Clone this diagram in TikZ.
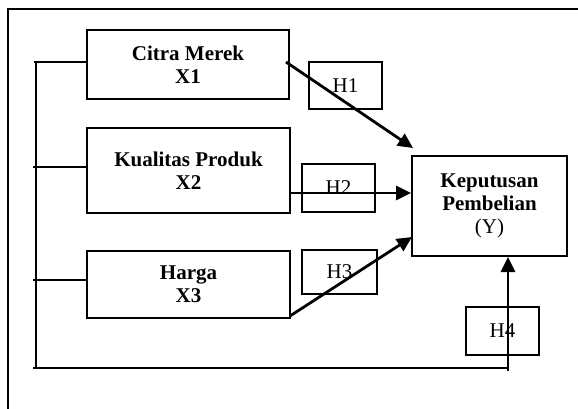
\documentclass[tikz,border=0pt]{standalone}
\usepackage{fontspec}
\setmainfont{Liberation Serif}
\usetikzlibrary{arrows.meta,calc}
\begin{document}
\begin{tikzpicture}[x=1pt,y=-1pt,
  varbox/.style={draw,line width=2pt,inner sep=0pt,align=center,
    font=\fontsize{21}{23}\selectfont\bfseries},
  hbox/.style={draw,line width=2pt,inner sep=0pt,
    font=\fontsize{21}{23}\selectfont},
  link/.style={line width=2pt},
  arr/.style={line width=2.8pt,-{Triangle[length=15pt,width=14pt]}}]
\useasboundingbox (0,0) rectangle (578,408);
\clip (0,0) rectangle (578,408);
% outer frame (partially visible)
\draw[line width=2pt] (8,420) -- (8,9) -- (600,9);
% variable boxes
\node[varbox,minimum width=202pt,minimum height=69pt] (c1) at (188,64.5) {Citra Merek\\X1};
\node[varbox,minimum width=203pt,minimum height=85pt] (k2) at (188.5,170.5) {Kualitas Produk\\X2};
\node[varbox,minimum width=203pt,minimum height=67pt] (h3) at (188.5,284.5) {Harga\\X3};
\node[varbox,minimum width=155pt,minimum height=100pt] (y) at (489.5,206)
  {Keputusan\\Pembelian\\\mdseries(Y)};
% hypothesis boxes
\node[hbox,minimum width=73pt,minimum height=47pt] (hA) at (345.5,85.5) {H1};
\node[hbox,minimum width=73pt,minimum height=48pt] (hB) at (338.5,188) {H2};
\node[hbox,minimum width=75pt,minimum height=44pt] (hC) at (339.5,272) {H3};
\node[hbox,minimum width=73pt,minimum height=48pt] (hD) at (502.5,331) {H4};
% bus on the left
\coordinate (bt) at (36,62);
\coordinate (bb) at (36,368);
\coordinate (br) at (508,368);
\coordinate (bs) at (508,371);
\draw[link] (bt) -- (bb);
\draw[link] ($(bb)+(-3,0)$) -- (br);
\draw[link] ($(bt)+(-2,0)$) -- (bt -| c1.west);
\draw[link] (33,167) -- (k2.west |- 0,167);
\draw[link] (33,280) -- (h3.west |- 0,280);
% arrows
\coordinate (s1) at (286,62);
\coordinate (t1) at (413,148);
\draw[arr] (s1) -- (t1);
\coordinate (s2) at (290,193);
\draw[arr] (s2) -- (s2 -| y.west);
\coordinate (s3) at (290,316);
\coordinate (t3) at (412,237);
\draw[arr] (s3) -- (t3);
\draw[arr] (bs) -- (bs |- y.south);
\end{tikzpicture}
\end{document}
